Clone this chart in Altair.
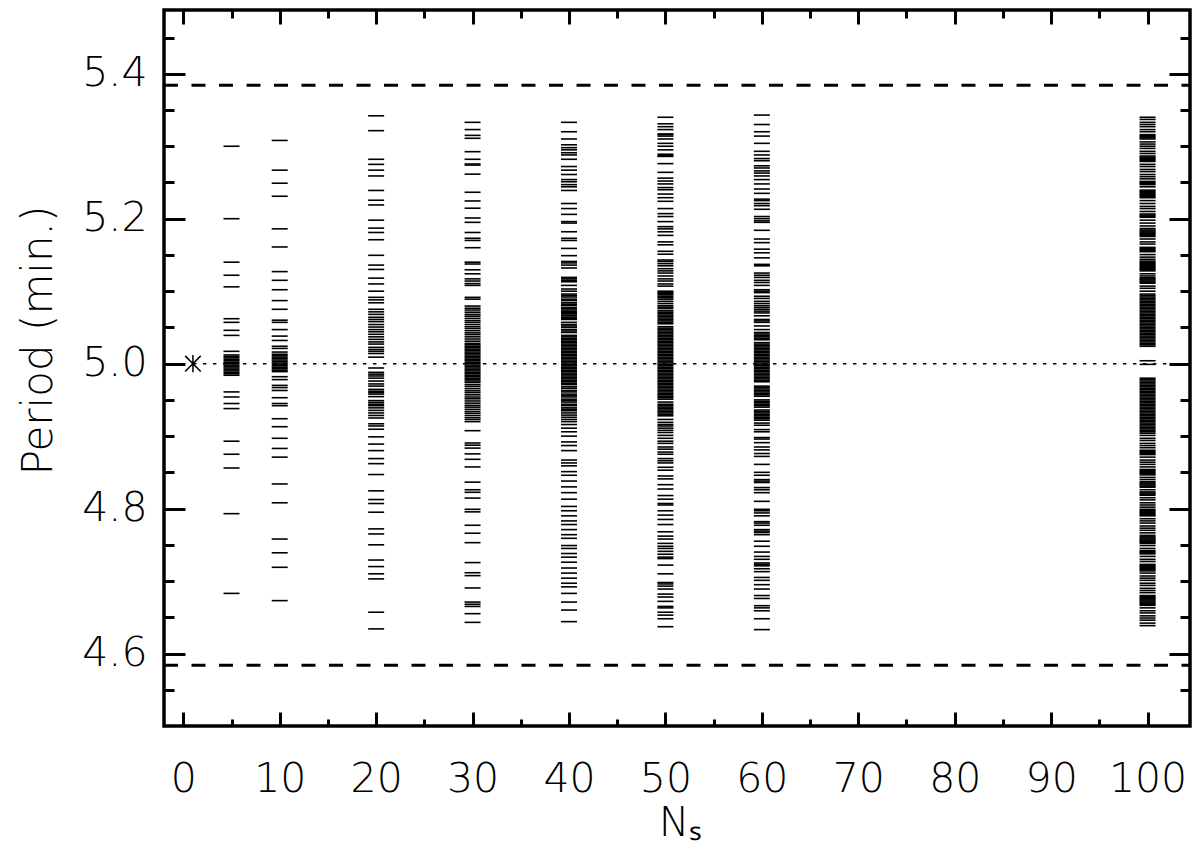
import altair as alt
import pandas as pd

# ---------------- data ----------------
NS_COLUMNS = [5, 10, 20, 30, 40, 50, 60, 100]

period_5 = [5.300, 5.200, 5.140, 5.122, 5.106, 5.062, 5.057, 5.046, 5.039, 5.017,
            5.012, 5.010, 5.008, 5.006, 5.004, 5.002, 5.000, 4.998, 4.996, 4.994,
            4.992, 4.990, 4.988, 4.986, 4.984,
            4.961, 4.954, 4.945, 4.938, 4.893, 4.875, 4.856, 4.793, 4.683]

period_10 = [5.308, 5.267, 5.249, 5.231, 5.186, 5.161, 5.127, 5.115, 5.102, 5.087,
             5.075, 5.060, 5.057, 5.047, 5.038, 5.032, 5.024, 5.021, 5.016,
             5.013, 5.011, 5.009, 5.007, 5.005, 5.003, 5.001, 4.999, 4.997, 4.995,
             4.993, 4.991, 4.989,
             4.982, 4.978, 4.970, 4.967, 4.963, 4.953, 4.945, 4.942, 4.924, 4.913, 4.897,
             4.883, 4.871, 4.834, 4.808, 4.758, 4.739, 4.719, 4.673]

period_20 = [5.342, 5.3215, 5.282, 5.275, 5.267, 5.259, 5.239, 5.2255, 5.219, 5.198,
             5.187, 5.181, 5.171, 5.1495, 5.136, 5.130, 5.118, 5.110, 5.100, 5.0915,
             5.088, 5.084, 5.075, 5.0715, 5.068, 5.064, 5.061, 5.058, 5.054, 5.0505,
             5.047, 5.044, 5.0405, 5.037, 5.0335, 5.030, 5.027, 5.0225, 5.0195, 5.017,
             5.014, 5.009, 4.994, 4.988, 4.9855, 4.983, 4.980, 4.976, 4.972, 4.969,
             4.9645, 4.962, 4.960, 4.958, 4.9545, 4.949, 4.9465, 4.944, 4.942, 4.939,
             4.9355, 4.932, 4.9285, 4.925, 4.917, 4.914, 4.9095, 4.899, 4.889, 4.880,
             4.869, 4.862, 4.847, 4.8245, 4.8125, 4.807, 4.795, 4.772, 4.765, 4.750,
             4.729, 4.720, 4.710, 4.703, 4.657, 4.634]

period_30 = [5.333, 5.323, 5.315, 5.311, 5.2925, 5.282, 5.2755, 5.274, 5.2615, 5.2365,
             5.2245, 5.2145, 5.201, 5.195, 5.181, 5.173, 5.170, 5.160, 5.140, 5.1375,
             5.1295, 5.124, 5.117, 5.114, 5.1105, 5.108, 5.0915, 5.089,
             5.0795, 5.0765, 5.074, 5.071, 5.068, 5.0655, 5.0625, 5.0595, 5.057, 5.054,
             5.051, 5.0485, 5.0455, 5.0425, 5.040, 5.037, 5.034, 5.031,
             5.028, 5.026, 5.024, 5.022, 5.020, 5.018, 5.016, 5.014, 5.012, 5.010,
             5.008, 5.006, 5.004, 5.002, 5.000, 4.998, 4.996, 4.994, 4.992, 4.990,
             4.988, 4.986, 4.984, 4.982, 4.980, 4.978, 4.976,
             4.974, 4.971, 4.9685, 4.9655, 4.9625, 4.960, 4.957, 4.954, 4.9515, 4.9485,
             4.9455, 4.9425, 4.940, 4.937, 4.934, 4.9315, 4.9285, 4.9255, 4.923, 4.920,
             4.9075, 4.8905, 4.8875, 4.8835, 4.8755, 4.868, 4.8575, 4.8365, 4.826, 4.8225,
             4.8145, 4.799, 4.7955, 4.777, 4.766, 4.753, 4.7255, 4.7115, 4.7075, 4.6905,
             4.671, 4.668, 4.665, 4.655, 4.643]

period_40 = [5.333, 5.320, 5.310, 5.302, 5.298, 5.295, 5.291, 5.288, 5.282, 5.272,
             5.267, 5.261, 5.254, 5.251, 5.247, 5.244, 5.239, 5.221, 5.214, 5.206,
             5.196, 5.194, 5.182, 5.173, 5.170, 5.159, 5.149, 5.141, 5.139, 5.136,
             5.132, 5.119, 5.117, 5.115, 5.113, 5.108, 5.103, 5.100,
             5.096, 5.094, 5.092, 5.089, 5.087, 5.084, 5.082, 5.080,
             5.077, 5.076, 5.074, 5.072, 5.071, 5.069, 5.067, 5.066, 5.064, 5.062, 5.061,
             5.057, 5.054, 5.052, 5.050, 5.047, 5.045, 5.043,
             5.039, 5.037, 5.035, 5.033, 5.031, 5.029, 5.027, 5.025, 5.023, 5.021,
             5.019, 5.017, 5.015, 5.013, 5.011, 5.009, 5.007, 5.005, 5.003, 5.001,
             4.999, 4.997, 4.995, 4.993, 4.991, 4.989, 4.987, 4.985, 4.983, 4.981,
             4.979, 4.977, 4.975,
             4.973, 4.971, 4.968, 4.966,
             4.963, 4.961, 4.958, 4.956, 4.954, 4.951, 4.949, 4.947, 4.944, 4.942, 4.939, 4.937,
             4.935, 4.932, 4.929, 4.926, 4.923, 4.920,
             4.916, 4.911, 4.906, 4.900, 4.892, 4.887, 4.880, 4.867, 4.863, 4.859,
             4.851, 4.846, 4.838, 4.830, 4.822, 4.813, 4.803, 4.797, 4.790, 4.783,
             4.778, 4.771, 4.764, 4.759, 4.749, 4.745, 4.738, 4.733, 4.726, 4.718,
             4.711, 4.704, 4.697, 4.692, 4.683, 4.671, 4.660, 4.644]

period_50 = [5.340, 5.331, 5.327, 5.323, 5.317, 5.316, 5.314, 5.310, 5.304, 5.300,
             5.295, 5.289, 5.287, 5.286, 5.276, 5.264, 5.256, 5.252, 5.248, 5.243,
             5.240, 5.234, 5.229, 5.224, 5.214, 5.207, 5.203, 5.196, 5.189, 5.186,
             5.182, 5.177, 5.168, 5.164, 5.155, 5.151, 5.143, 5.141, 5.138, 5.135,
             5.131, 5.128, 5.125, 5.121, 5.117, 5.114, 5.110, 5.107,
             5.100, 5.098, 5.097, 5.095, 5.093, 5.091, 5.089, 5.086, 5.083,
             5.080, 5.078, 5.076,
             5.073, 5.071, 5.069, 5.067, 5.065, 5.063, 5.061, 5.059, 5.057, 5.055,
             5.051, 5.049, 5.047, 5.045, 5.043, 5.041, 5.039, 5.037, 5.035, 5.033,
             5.031, 5.029, 5.027, 5.025, 5.023, 5.021, 5.019, 5.017, 5.015, 5.013,
             5.011, 5.009, 5.007, 5.005, 5.003, 5.001,
             4.999, 4.997, 4.995, 4.993, 4.991, 4.989, 4.987, 4.985, 4.983, 4.981,
             4.979, 4.977, 4.975, 4.973, 4.971, 4.969, 4.967, 4.965, 4.963, 4.961,
             4.959, 4.957, 4.955, 4.953, 4.951,
             4.947,
             4.944, 4.942, 4.940, 4.938, 4.936, 4.934, 4.932, 4.930, 4.928,
             4.923, 4.919, 4.916, 4.914, 4.911, 4.908, 4.905, 4.901, 4.897, 4.893,
             4.890, 4.885, 4.882, 4.878, 4.875, 4.869, 4.866, 4.863, 4.857, 4.853,
             4.845, 4.841, 4.833, 4.827, 4.818, 4.813, 4.807, 4.805, 4.797, 4.791,
             4.785, 4.778, 4.768, 4.762, 4.758, 4.752, 4.748, 4.745, 4.741, 4.737,
             4.733, 4.731, 4.722, 4.710, 4.698, 4.696, 4.693, 4.689, 4.682, 4.678,
             4.672, 4.665, 4.663, 4.657, 4.653, 4.648, 4.637]

period_60 = [5.343, 5.330, 5.320, 5.314, 5.304, 5.293, 5.288, 5.283, 5.280, 5.273,
             5.270, 5.266, 5.263, 5.259, 5.254, 5.248, 5.241, 5.235, 5.227, 5.225,
             5.221, 5.218, 5.213, 5.203, 5.200, 5.197, 5.195, 5.184, 5.172, 5.167,
             5.158, 5.153, 5.146, 5.137, 5.135, 5.125, 5.122, 5.119, 5.115, 5.112,
             5.108, 5.102, 5.100, 5.098, 5.093, 5.090, 5.086, 5.083,
             5.080, 5.0775, 5.075, 5.0725, 5.070, 5.066, 5.061, 5.059, 5.057, 5.052, 5.047,
             5.043, 5.041, 5.039, 5.037, 5.035, 5.033,
             5.029, 5.027, 5.025, 5.023, 5.021, 5.019, 5.017, 5.015, 5.013, 5.011,
             5.009, 5.007, 5.005, 5.003, 5.001,
             4.999, 4.997, 4.995, 4.993, 4.991, 4.989, 4.987, 4.985, 4.983, 4.981,
             4.979, 4.977, 4.975,
             4.969, 4.967, 4.965, 4.963, 4.961, 4.959, 4.957, 4.955,
             4.950, 4.948, 4.946, 4.944, 4.942, 4.940,
             4.936, 4.934, 4.932, 4.930, 4.928, 4.926, 4.924, 4.922,
             4.918, 4.915, 4.909, 4.906, 4.898, 4.896, 4.891, 4.885, 4.881, 4.876,
             4.872, 4.861, 4.850, 4.846, 4.840, 4.838, 4.836, 4.829, 4.826, 4.822,
             4.810, 4.799, 4.797, 4.794, 4.790, 4.782, 4.780, 4.777, 4.771, 4.769,
             4.767, 4.764, 4.755, 4.748, 4.740, 4.734, 4.730, 4.725, 4.723, 4.721,
             4.717, 4.713, 4.705, 4.701, 4.695, 4.689, 4.680, 4.676, 4.666, 4.663,
             4.659, 4.648, 4.633]

period_100 = [5.340, 5.337, 5.333, 5.330, 5.327, 5.323, 5.320, 5.316, 5.3145, 5.313,
              5.3115, 5.310, 5.306, 5.303, 5.300, 5.297, 5.293, 5.290, 5.2865, 5.285,
              5.2835, 5.282, 5.2805, 5.279, 5.275, 5.272, 5.268, 5.265, 5.261, 5.258,
              5.255, 5.2515, 5.250, 5.2485, 5.247, 5.244, 5.2395, 5.238, 5.2365, 5.235,
              5.2335, 5.232, 5.2305, 5.229, 5.225, 5.221, 5.217, 5.214, 5.210, 5.2065,
              5.205, 5.2035, 5.202, 5.198, 5.194, 5.190, 5.1865, 5.1845, 5.183, 5.1815,
              5.180, 5.1785, 5.177, 5.1755, 5.172, 5.168, 5.165, 5.1605, 5.159, 5.1575,
              5.156, 5.1545, 5.1505, 5.147, 5.144, 5.1415, 5.140, 5.1385, 5.137, 5.1355,
              5.134, 5.1325, 5.131, 5.1295, 5.128, 5.124, 5.121, 5.1185, 5.117, 5.1155,
              5.114, 5.1125, 5.111, 5.107, 5.104, 5.100,
              5.096, 5.094, 5.092, 5.090, 5.088, 5.086, 5.084, 5.082, 5.080, 5.078,
              5.076, 5.074, 5.072, 5.070, 5.068, 5.066, 5.064, 5.062, 5.060, 5.058,
              5.056, 5.054, 5.052, 5.050, 5.048, 5.046, 5.044, 5.042, 5.040, 5.038,
              5.036, 5.034, 5.032, 5.030, 5.028, 5.026, 5.024,
              5.004, 4.999,
              4.980, 4.978, 4.976, 4.974, 4.972, 4.970, 4.968, 4.966, 4.964, 4.962,
              4.960, 4.958, 4.956, 4.954, 4.952, 4.950, 4.948, 4.946, 4.944, 4.942,
              4.940, 4.938, 4.936, 4.934, 4.932, 4.930, 4.928, 4.926, 4.924, 4.922,
              4.920, 4.918, 4.916, 4.914, 4.912, 4.910, 4.908, 4.906, 4.904,
              4.901, 4.897, 4.894, 4.890, 4.887, 4.884, 4.8805, 4.879, 4.8775, 4.876,
              4.8745, 4.871, 4.867, 4.864, 4.861, 4.8575, 4.854, 4.8525, 4.851, 4.8495,
              4.848, 4.8465, 4.843, 4.840, 4.837, 4.8355, 4.834, 4.8325, 4.831, 4.8295,
              4.826, 4.823, 4.8215, 4.820, 4.8185, 4.815, 4.812, 4.808, 4.805, 4.802,
              4.799, 4.7975, 4.796, 4.7945, 4.793, 4.7915, 4.790, 4.786, 4.783, 4.780,
              4.776, 4.773, 4.770, 4.7665, 4.763, 4.761, 4.7595, 4.758, 4.7565, 4.755,
              4.7535, 4.752, 4.749, 4.745, 4.742, 4.7405, 4.739, 4.7375, 4.734, 4.730,
              4.727, 4.723, 4.7215, 4.720, 4.7185, 4.717, 4.7155, 4.714, 4.711, 4.707,
              4.704, 4.701, 4.697, 4.694, 4.690, 4.687, 4.684, 4.680, 4.6785, 4.677,
              4.6755, 4.674, 4.6725, 4.671, 4.6695, 4.668, 4.6665, 4.663, 4.659, 4.656,
              4.652, 4.649, 4.646, 4.642, 4.6385]

limit_periods = [5.384, 4.584]     # dashed limits
true_ns = [1]
true_period = [5.0]               # asterisk + dotted reference line

X_DOMAIN = [-2, 104.4]
Y_DOMAIN = [4.5, 5.488]
x_major = [0, 10, 20, 30, 40, 50, 60, 70, 80, 90, 100]
x_minor = [5, 15, 25, 35, 45, 55, 65, 75, 85, 95]
y_major = [4.6, 4.8, 5.0, 5.2, 5.4]
y_minor = [4.55, 4.65, 4.7, 4.75, 4.85, 4.9, 4.95, 5.05, 5.1, 5.15, 5.25, 5.3, 5.35, 5.45]

# ---------------- tables ----------------
all_lists = [period_5, period_10, period_20, period_30, period_40, period_50, period_60, period_100]
rows = [(ns, p) for ns, lst in zip(NS_COLUMNS, all_lists) for p in lst]
df = pd.DataFrame(rows, columns=["Ns", "Period"])
df_lim = pd.DataFrame({"limit": limit_periods})
df_true = pd.DataFrame({"Ns": true_ns, "Period": true_period})

FONT = "DejaVu Sans"
W = 200
xs = alt.Scale(domain=X_DOMAIN, nice=False, zero=False)
ys = alt.Scale(domain=Y_DOMAIN, nice=False, zero=False)


def frame_axis(orient, values, size, **kw):
    base = dict(orient=orient, values=values, tickSize=size, offset=-size, tickWidth=3,
                tickColor="black", domain=False, grid=False, labels=False)
    base.update(kw)
    return alt.Axis(**base)


x_bottom_major = frame_axis("bottom", x_major, 14, labels=True, labelFont=FONT, labelFontSize=41,
                            labelFontWeight=W, labelColor="black", labelPadding=33,
                            labelFlush=False, labelOverlap=False,
                            titleFont=FONT, titleFontSize=41, titleFontWeight=W, titleColor="black",
                            titleX=516, titleY=123, titleBaseline="alphabetic", titleAlign="center")
y_left_major = frame_axis("left", y_major, 21, labels=True, format=".1f", labelFont=FONT,
                          labelFontSize=41, labelFontWeight=W, labelColor="black", labelPadding=17,
                          labelFlush=False, labelOverlap=False,
                          titleFont=FONT, titleFontSize=42, titleFontWeight=W, titleColor="black",
                          titleX=-147, titleY=330, titleAngle=270, titleBaseline="middle",
                          titleAlign="center")

ticks = alt.Chart(df).mark_tick(orient="horizontal", size=16, thickness=1.6, color="black",
                                opacity=1).encode(
    x=alt.X("Ns:Q", scale=xs, axis=x_bottom_major, title="Nₛ"),
    y=alt.Y("Period:Q", scale=ys, axis=y_left_major, title="Period (min.)"),
)

dashed = alt.Chart(df_lim).mark_rule(color="black", strokeWidth=3, strokeDash=[14, 13.5]).encode(
    y=alt.Y("limit:Q", scale=ys, axis=frame_axis("left", y_minor, 10), title=""),
    x=alt.X(datum=X_DOMAIN[0], type="quantitative", scale=xs,
            axis=frame_axis("top", x_minor, 8), title=""),
    x2=alt.X2(datum=X_DOMAIN[1]),
)

dotted = alt.Chart(df_true).mark_rule(color="black", strokeWidth=1.5, strokeDash=[3.5, 6.5]).encode(
    x=alt.X("Ns:Q", scale=xs, axis=frame_axis("bottom", x_minor, 7), title=""),
    x2=alt.X2(datum=X_DOMAIN[1]),
    y=alt.Y("Period:Q", scale=ys, axis=frame_axis("right", y_major, 21), title=""),
)

ASTERISK = "M-0.9,-0.9L0.9,0.9M-0.9,0.9L0.9,-0.9M0,-1L0,1"
star = alt.Chart(df_true).mark_point(shape=ASTERISK, size=300, filled=False, color="black",
                                     strokeWidth=1.5, opacity=1).encode(
    x=alt.X("Ns:Q", scale=xs, axis=frame_axis("top", x_major, 14), title=""),
    y=alt.Y("Period:Q", scale=ys, axis=frame_axis("right", y_minor, 10), title=""),
)

chart = alt.layer(dashed, dotted, ticks, star).resolve_axis(
    x="independent", y="independent"
).properties(
    width=1026, height=716,
    padding={"left": 156, "top": 2, "right": 2, "bottom": 120},
    autosize=alt.AutoSizeParams(type="none"),
    background="white",
).configure_view(stroke="black", strokeWidth=3.5)

chart.save("out.html", embed_options={"renderer": "svg", "actions": False})
